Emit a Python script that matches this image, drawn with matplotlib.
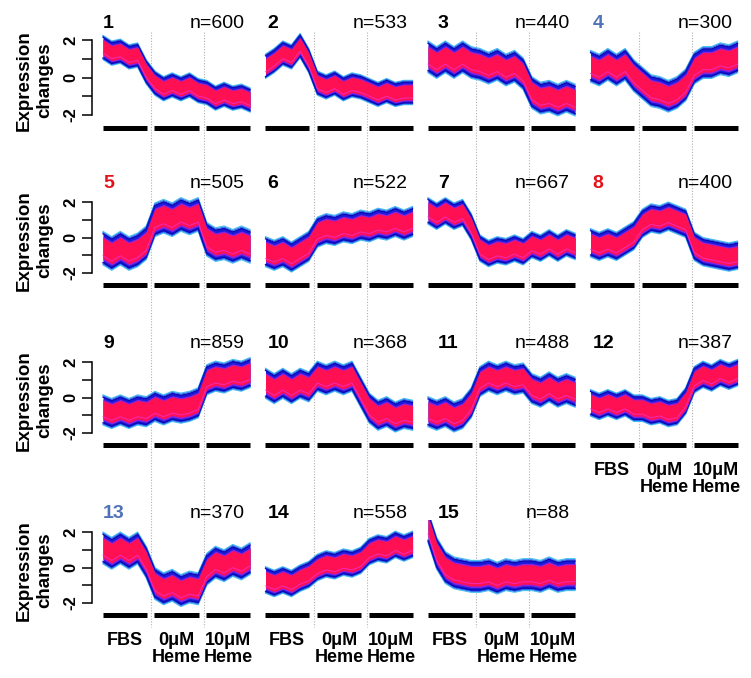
import numpy as np
import matplotlib
matplotlib.use('Agg')
import matplotlib.pyplot as plt
from matplotlib.lines import Line2D
from matplotlib.transforms import blended_transform_factory

plt.rcParams['font.family'] = ['Liberation Sans', 'DejaVu Sans']

# ---------------- data ----------------
cluster_ids = list(range(1, 16))
n_genes = [600, 533, 440, 300, 505, 522, 667, 400, 859, 368, 488, 387, 370, 558, 88]
title_colors = ['black', 'black', 'black', '#4f72b8', '#e3131b', 'black', 'black', '#e3131b',
                'black', 'black', 'black', 'black', '#4f72b8', 'black', 'black']
conditions = ['FBS', '0μM\nHeme', '10μM\nHeme']

# cluster centre profiles: 6 samples per condition (FBS | 0uM Heme | 10uM Heme)
c1 = [1.6, 1.3, 1.4, 1.1, 1.2, 0.3, -0.3, -0.6, -0.4, -0.6, -0.4, -0.7, -0.8, -1.1, -0.9, -1.1, -1.0, -1.2]
c2 = [0.6, 0.9, 1.3, 1.1, 1.7, 0.9, -0.3, -0.5, -0.3, -0.6, -0.4, -0.5, -0.7, -0.9, -0.7, -0.9, -0.8, -0.8]
c3 = [1.1, 0.8, 1.1, 0.8, 1.1, 0.8, 0.7, 0.5, 0.7, 0.4, 0.6, 0.2, -0.8, -1.1, -1.0, -1.2, -1.0, -1.2]
c4 = [0.6, 0.4, 0.7, 0.4, 0.7, 0.1, -0.3, -0.7, -0.8, -1.0, -0.8, -0.4, 0.5, 0.8, 0.8, 1.0, 0.9, 1.1]
c5 = [-0.6, -0.9, -0.6, -0.9, -0.7, -0.3, 1.0, 1.2, 1.0, 1.3, 1.1, 1.3, -0.1, -0.4, -0.3, -0.5, -0.3, -0.5]
c6 = [-0.8, -1.0, -0.8, -1.1, -0.8, -0.5, 0.3, 0.5, 0.4, 0.6, 0.5, 0.7, 0.6, 0.8, 0.7, 0.9, 0.7, 0.9]
c7 = [1.5, 1.2, 1.5, 1.2, 1.4, 0.6, -0.6, -0.9, -0.7, -0.8, -0.6, -0.8, -0.4, -0.6, -0.3, -0.6, -0.3, -0.5]
c8 = [-0.3, -0.5, -0.3, -0.5, -0.2, 0.1, 0.8, 1.1, 1.0, 1.2, 1.0, 0.8, -0.5, -0.8, -0.9, -1.0, -1.1, -1.0]
c9 = [-0.7, -0.9, -0.7, -0.9, -0.7, -0.8, -0.5, -0.7, -0.5, -0.6, -0.5, -0.3, 1.0, 1.2, 1.1, 1.3, 1.2, 1.4]
c10 = [0.8, 0.5, 0.8, 0.5, 0.8, 0.6, 1.2, 1.0, 1.2, 1.0, 1.2, 0.3, -0.6, -1.0, -0.8, -1.1, -0.9, -1.0]
c11 = [-0.8, -1.0, -0.8, -1.1, -0.9, -0.3, 0.9, 1.2, 1.0, 1.2, 1.0, 1.1, 0.5, 0.3, 0.6, 0.3, 0.5, 0.3]
c12 = [-0.3, -0.5, -0.3, -0.5, -0.3, -0.6, -0.6, -0.8, -0.7, -0.9, -0.8, -0.2, 1.0, 1.3, 1.1, 1.4, 1.2, 1.4]
c13 = [1.1, 0.8, 1.1, 0.8, 1.1, 0.3, -0.9, -1.2, -1.0, -1.3, -1.1, -1.2, -0.1, 0.3, 0.1, 0.4, 0.2, 0.5]
c14 = [-0.7, -0.9, -0.7, -0.9, -0.6, -0.4, 0.0, 0.2, 0.1, 0.3, 0.2, 0.4, 0.9, 1.1, 1.0, 1.3, 1.1, 1.3]
c15 = [2.3, 0.8, 0.0, -0.3, -0.4, -0.5, -0.5, -0.4, -0.6, -0.4, -0.5, -0.4, -0.4, -0.5, -0.3, -0.5, -0.4, -0.4]
centers = [c1, c2, c3, c4, c5, c6, c7, c8, c9, c10, c11, c12, c13, c14, c15]
# half spread of each gene bundle around its centre
half_width = [0.65, 0.65, 0.85, 0.85, 0.95, 0.85, 0.75, 0.8, 0.85, 0.85, 0.85, 0.75, 0.9, 0.75, 0.9]

# ---------------- layout ----------------
W, H = 751, 678
fig = plt.figure(figsize=(W / 100, H / 100), dpi=100)

col_x0 = [103, 265.5, 428, 590.5]          # pixel of first sample
row_y0 = [77.5, 237.5, 397.5, 567.5]       # pixel of y = 0
row_scale = [18.75, 17.75, 17.75, 17.75]   # pixels per unit
px_per_x = 8.65
XL = (-1.27, 17.3)
YL = (-3.0, 2.7)
title_dx = [0, 2, 10, 2]

RED = '#ff1052'
x = np.arange(18)
axes = []
for i, cid in enumerate(cluster_ids):
    r, c = divmod(i, 4)
    s = row_scale[r]
    left_px = col_x0[c] + XL[0] * px_per_x
    w_px = (XL[1] - XL[0]) * px_per_x
    top_px = row_y0[r] - YL[1] * s
    h_px = (YL[1] - YL[0]) * s
    ax = fig.add_axes([left_px / W, 1 - (top_px + h_px) / H, w_px / W, h_px / H])
    ax.set_xlim(*XL)
    ax.set_ylim(*YL)
    ax.patch.set_alpha(0)
    for sp in ['top', 'right', 'bottom']:
        ax.spines[sp].set_visible(False)
    ax.set_xticks([])

    mid = np.asarray(centers[i], dtype=float)
    hw = half_width[i]
    ax.fill_between(x, mid - 0.92 * hw, mid + 0.92 * hw, color='#1c1cd8', lw=0, zorder=1)
    for k, col, lw in [(1.0, '#46c3ee', 0.8), (0.93, '#2a6cf0', 0.8), (0.85, '#0a0ab4', 0.9)]:
        ax.plot(x, mid + k * hw, color=col, lw=lw, zorder=2)
        ax.plot(x, mid - k * hw, color=col, lw=lw, zorder=2)
    ax.fill_between(x, mid - 0.7 * hw, mid + 0.7 * hw, color='#8c22e0', lw=0, zorder=3)
    ax.fill_between(x, mid - 0.6 * hw, mid + 0.62 * hw, color=RED, lw=0, zorder=4)
    ax.plot(x, mid - 0.45 * hw, color='#f22fd0', lw=0.7, zorder=5, alpha=0.8)

    # condition bars
    for k in range(3):
        ax.plot([6 * k - 0.05, 6 * k + 5.05], [-2.7, -2.7], color='black', lw=3.6,
                solid_capstyle='butt', clip_on=False)

    ty = 49 / s
    ax.text(title_dx[c] / px_per_x, ty, str(cid), ha='left', va='baseline',
            fontsize=14, fontweight='bold', color=title_colors[i])
    ax.text(16.4, ty, f'n={n_genes[i]}', ha='right', va='baseline', fontsize=14)

    if c == 0:
        ax.spines['left'].set_bounds(-2, 2)
        ax.spines['left'].set_linewidth(1.1)
        ax.set_yticks([-2, -1, 0, 1, 2])
        ax.set_yticklabels(['-2', '', '0', '', '2'], rotation=90, va='center',
                           fontsize=12, fontweight='bold')
        ax.tick_params(axis='y', length=7, width=1.1, pad=3)
        ax.set_ylabel('Expression\nchanges', fontsize=13.5, fontweight='bold', labelpad=7,
                      linespacing=1.3)
    else:
        ax.spines['left'].set_visible(False)
        ax.set_yticks([])

    # condition labels below bottom panels
    if cid in (12, 13, 14, 15):
        for k, lab in enumerate(conditions):
            ax.text(6 * k + 2.5, -3.65, lab, ha='center', va='top', fontsize=13,
                    fontweight='bold', linespacing=1.0, clip_on=False)
    axes.append(ax)

# dotted separators spanning each column
for c in range(4):
    ax_top = axes[c]
    tr = blended_transform_factory(ax_top.transData, fig.transFigure)
    y_end = 627 if c < 3 else 447
    for xv in (5.6, 11.7):
        fig.add_artist(Line2D([xv, xv], [1 - 32 / H, 1 - y_end / H], transform=tr,
                              color='#b0b0b0', lw=0.8, ls=(0, (1, 1.5)), zorder=0))

fig.savefig('out.png', dpi=100)
